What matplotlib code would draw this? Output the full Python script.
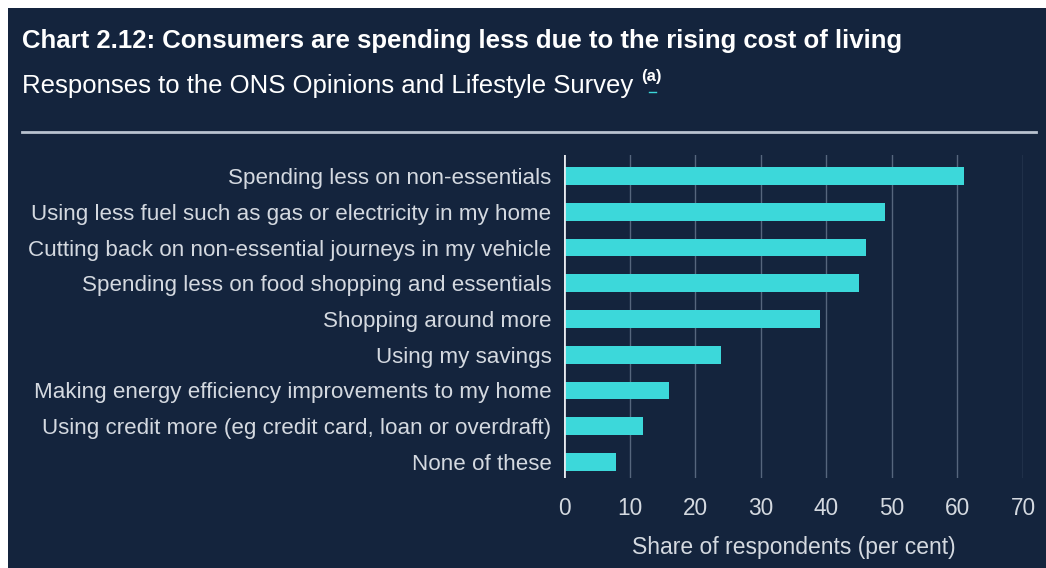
import matplotlib.pyplot as plt
from matplotlib.patches import Rectangle
from matplotlib.lines import Line2D

plt.rcParams["font.family"] = ["Liberation Sans", "DejaVu Sans"]

categories = [
    "Spending less on non-essentials",
    "Using less fuel such as gas or electricity in my home",
    "Cutting back on non-essential journeys in my vehicle",
    "Spending less on food shopping and essentials",
    "Shopping around more",
    "Using my savings",
    "Making energy efficiency improvements to my home",
    "Using credit more (eg credit card, loan or overdraft)",
    "None of these",
]
values = [61, 49, 46, 45, 39, 24, 16, 12, 8]
x_ticks = [0, 10, 20, 30, 40, 50, 60, 70]

bg = "#14243d"
bar_color = "#3cd8da"
text_color = "#d4d9e0"
grid_color = "#56667d"

fig = plt.figure(figsize=(10.46, 5.68), dpi=100, facecolor="white")
W, H = 1046, 568
fig.patches.append(Rectangle((8 / W, 0), 1 - 8 / W, 1 - 8 / H, transform=fig.transFigure,
                             facecolor=bg, edgecolor="none", zorder=-10))

fig.text(22 / W, 1 - 41 / H, "Chart 2.12: Consumers are spending less due to the rising cost of living",
         color="white", fontsize=18.5, fontweight="bold", va="center")
sub = fig.text(22 / W, 1 - 86 / H, "Responses to the ONS Opinions and Lifestyle Survey",
               color="white", fontsize=18.5, va="center")
fig.canvas.draw()
bb = sub.get_window_extent()
fig.text(bb.x1 / W + 8 / W, 1 - 77 / H, "(a)", color="white", fontsize=12,
         fontweight="bold", va="center")
fig.lines.append(Line2D([(bb.x1 + 16) / W, (bb.x1 + 23) / W], [1 - 92 / H, 1 - 92 / H],
                        transform=fig.transFigure, color="#3cd8da", linewidth=1))
fig.lines.append(Line2D([22 / W, 1036 / W], [1 - 132 / H, 1 - 132 / H], transform=fig.transFigure,
                        color="#b8c2cf", linewidth=2))

ax = fig.add_axes([564 / W, 1 - 478 / H, (1023 - 564) / W, (478 - 155) / H])
ax.set_facecolor(bg)
ypos = list(range(len(categories)))
ax.barh(ypos, values, height=0.5, color=bar_color, zorder=3)
ax.set_xlim(0, 70)
ax.set_ylim(8.45, -0.59)
ax.set_xticks(x_ticks)
ax.set_yticks(ypos)
ax.set_yticklabels(categories)
for x in x_ticks[1:]:
    ax.axvline(x, color=grid_color, linewidth=1, zorder=1)
ax.axvline(0, color="#e6e9ee", linewidth=2, zorder=4)
for s in ax.spines.values():
    s.set_visible(False)
ax.tick_params(axis="y", length=0, colors=text_color, labelsize=16.1, pad=9)
ax.tick_params(axis="x", length=0, colors=text_color, labelsize=16.3, pad=14)
ax.set_xlabel("Share of respondents (per cent)", color=text_color, fontsize=16.5, labelpad=11)

fig.savefig("out.png", dpi=100, facecolor=fig.get_facecolor())
